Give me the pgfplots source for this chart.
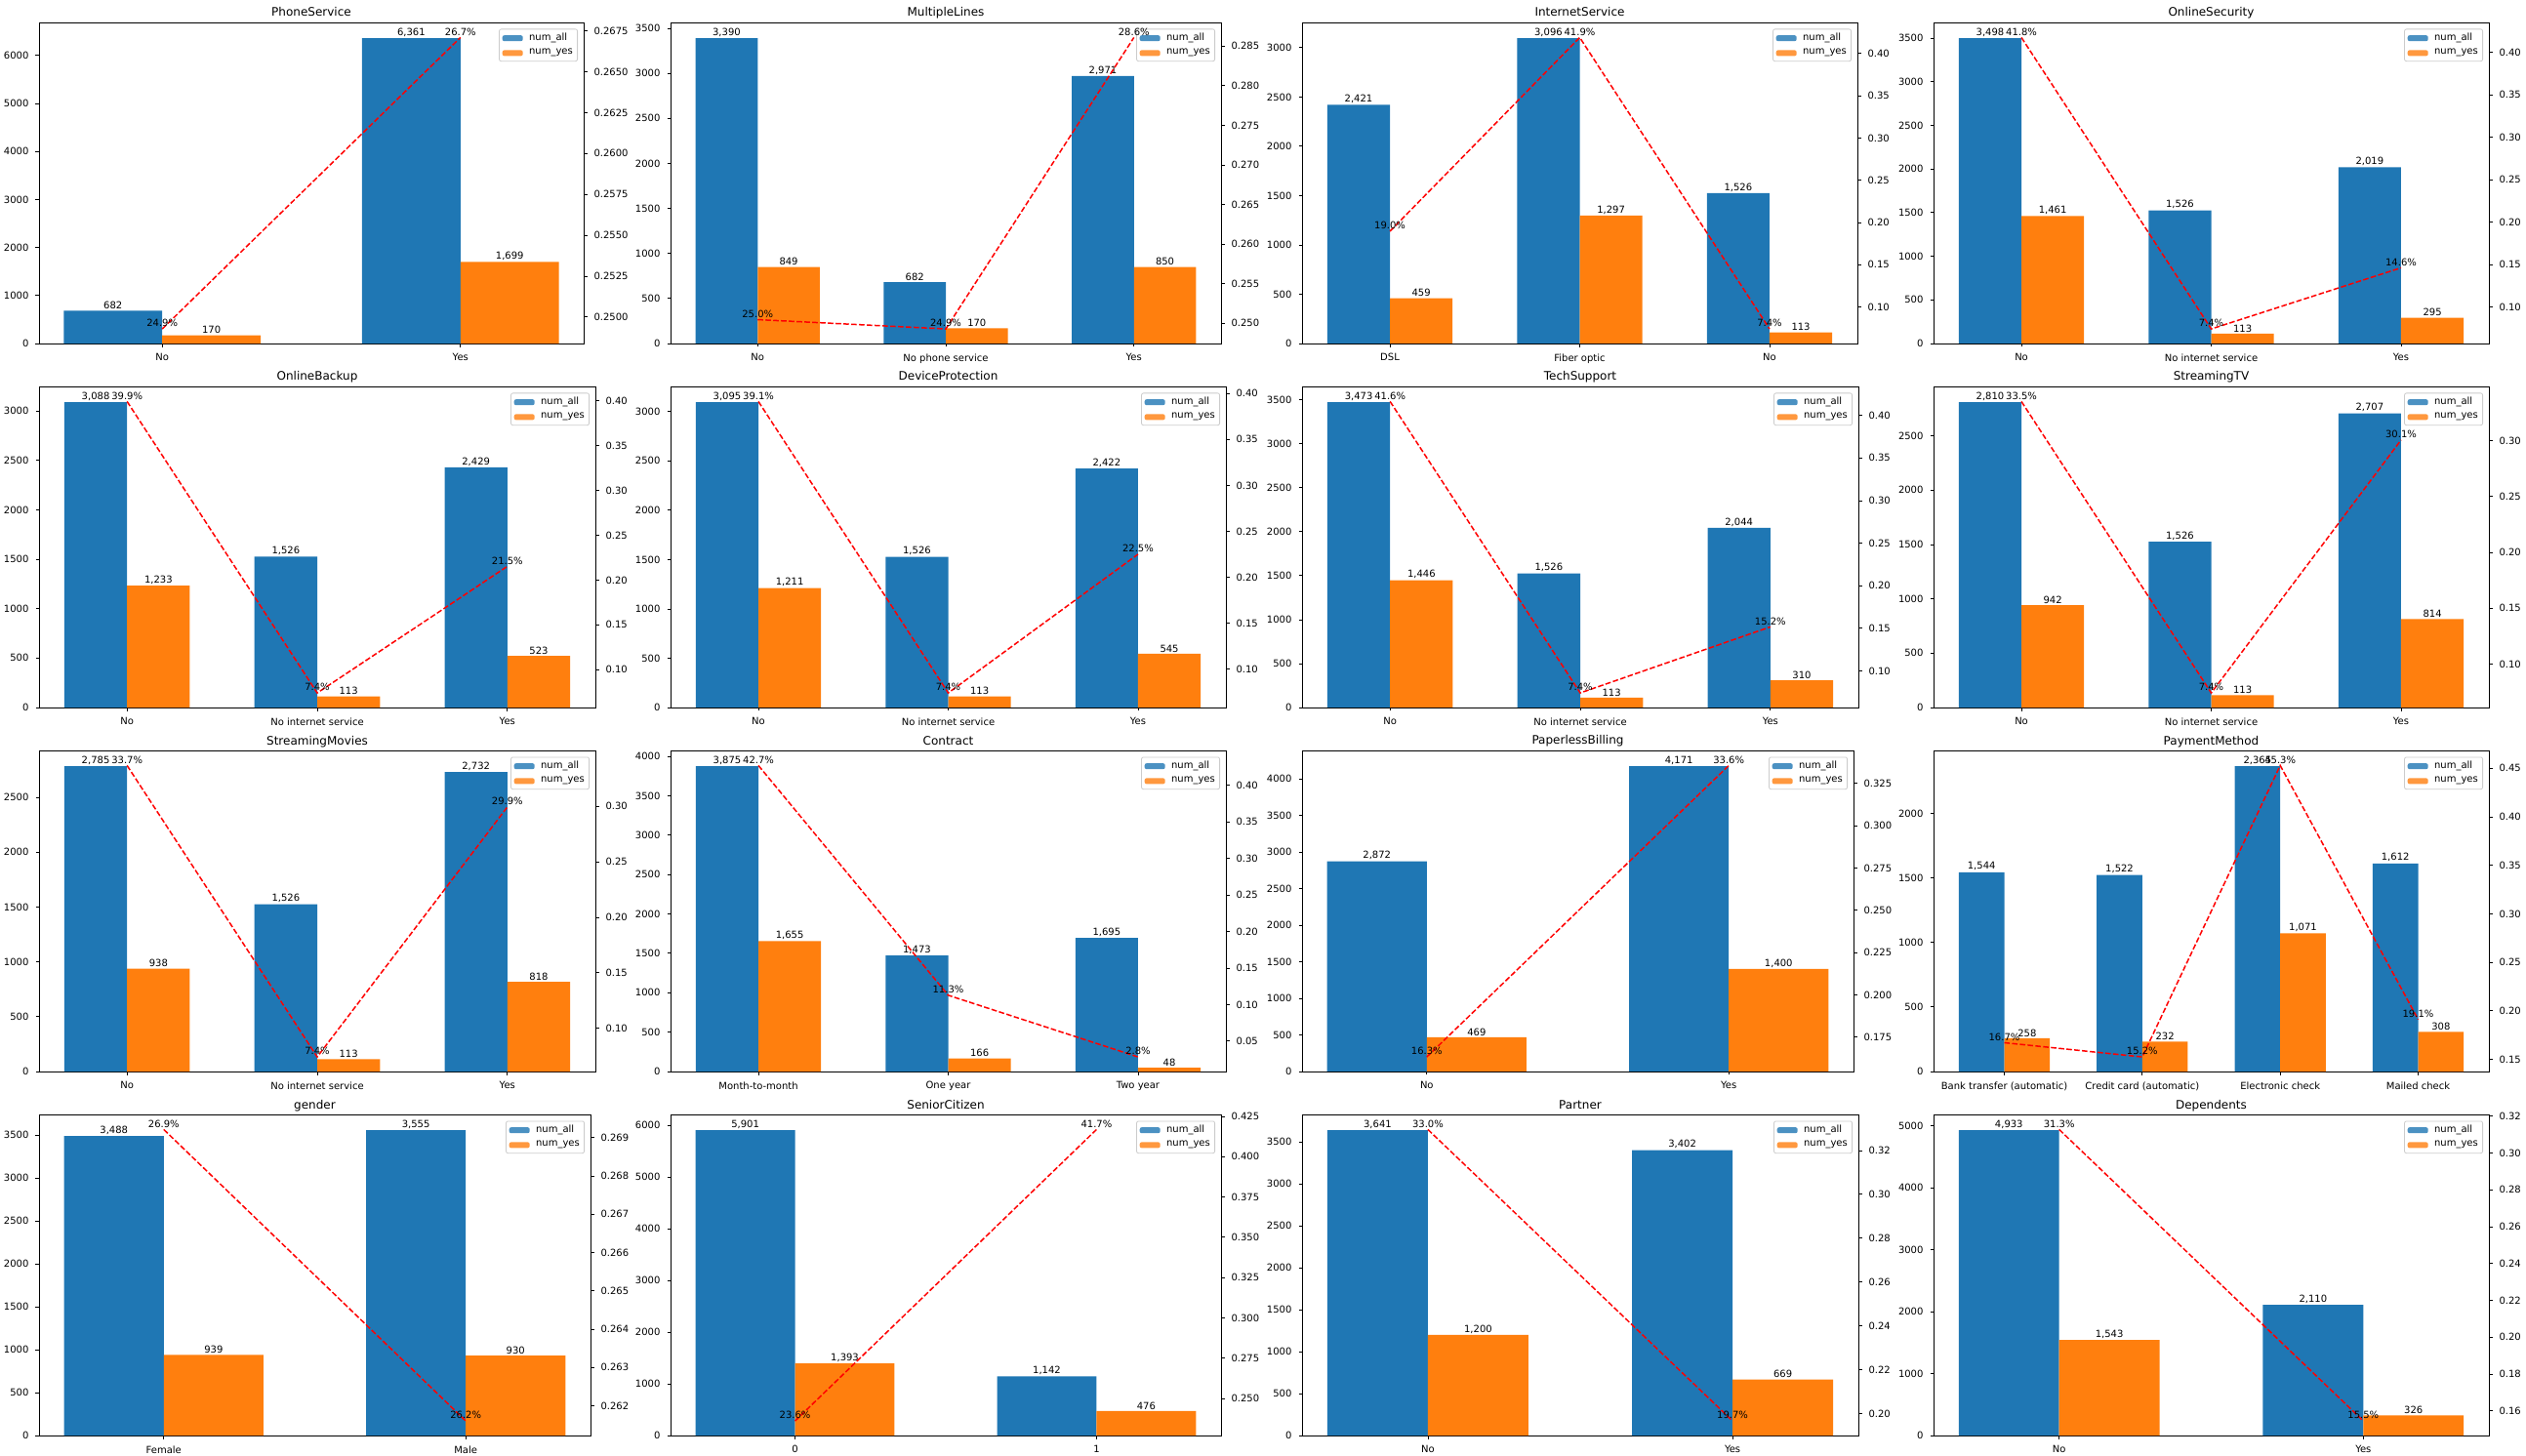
\documentclass[border=0pt]{standalone}
\usepackage{fontspec}
\setmainfont{DejaVu Sans}
\usepackage{pgfplots}
\pgfplotsset{compat=1.18}
\definecolor{c1}{HTML}{1F77B4}
\definecolor{c2}{HTML}{FF7F0E}
\definecolor{lg}{HTML}{CCCCCC}
\newcommand{\fs}{\fontsize{5}{6}\selectfont}
\pgfplotsset{
 common/.style={scale only axis, height=164.25pt, anchor=north west,
   axis line style={line width=0.4pt, black},
   tick style={black, line width=0.4pt},
   tick align=outside, major tick length=1.75pt,
   tick label style={font=\fs},
   scaled ticks=false,
   /pgf/number format/assume math mode=true,
   /pgf/number format/1000 sep={},
   clip=false},
 leftax/.style={common, xtick pos=bottom, ytick pos=left, ymin=0,
   every axis title/.style={font=\fontsize{6}{7}\selectfont, at={(0.5,1)}, anchor=base, yshift=3.25pt, inner sep=0pt},
   legend cell align=left,
   legend style={at={(1,1)}, anchor=north east, xshift=-3pt, yshift=-3pt,
     font=\fs, draw=lg, rounded corners=1pt, fill=white, fill opacity=0.8,
     text opacity=1, inner xsep=1.6pt, inner ysep=1.2pt, row sep=1.2pt,
     nodes={inner sep=0.8pt},
     /tikz/every odd column/.append style={column sep=2.4pt}}},
 rightax/.style={common, axis x line=none, axis y line*=right, ytick pos=right},
 two/.style={xmin=-0.413, xmax=1.413, xtick={0,1}},
 three/.style={xmin=-0.463, xmax=2.463, xtick={0,1,2}},
 four/.style={xmin=-0.513, xmax=3.513, xtick={0,1,2,3}},
 prec/.style={yticklabel={\pgfmathprintnumber[fixed,fixed zerofill,precision=#1]{\tick}}},
 allbar/.style={ybar, bar width=0.33, bar shift=0, fill=c1, draw=none,
   x filter/.expression={x-0.165},
   legend image code/.code={\fill[c1] (0pt,-1.5pt) rectangle (10.5pt,1.5pt);},
   nodes near coords, nodes near coords style={font=\fs, black, inner sep=0.6pt, anchor=south, /pgf/number format/1000 sep={,}}},
 yesbar/.style={ybar, bar width=0.33, bar shift=0, fill=c2, draw=none,
   x filter/.expression={x+0.165},
   legend image code/.code={\fill[c2] (0pt,-1.5pt) rectangle (10.5pt,1.5pt);},
   nodes near coords, nodes near coords style={font=\fs, black, inner sep=0.6pt, anchor=south, /pgf/number format/1000 sep={,}}},
 rateline/.style={red, line width=0.75pt, dash pattern=on 2.8pt off 1.2pt, mark=none,
   point meta=explicit symbolic, nodes near coords,
   nodes near coords style={font=\fs, black, inner sep=0.6pt, anchor=south}},
}
\newcommand{\panel}[6]{%
 \begin{axis}[leftax,#1,#2]
 \addplot[allbar] coordinates {#3};
 \addplot[yesbar] coordinates {#4};
 \legend{num\_all,num\_yes}
 \end{axis}
 \begin{axis}[rightax,#1,#5]
 \addplot[rateline] coordinates {#6};
 \end{axis}}
\begin{document}
\begin{tikzpicture}
\path[use as bounding box] (0,0) rectangle (1294pt,-746pt);
% Row 1
\panel{at={(20pt,-11.75pt)}, width=279pt, two}
 {title={PhoneService}, xticklabels={No,Yes}, ymax=6679, ytick={0,1000,2000,3000,4000,5000,6000}}
 {(0,682) (1,6361)}
 {(0,170) (1,1699)}
 {ymin=0.248376, ymax=0.267987, ytick={0.25,0.2525,0.255,0.2575,0.26,0.2625,0.265,0.2675}, prec=4}
 {(0,0.249267) [24.9\%] (1,0.267096) [26.7\%]}
\panel{at={(343.5pt,-11.75pt)}, width=282pt, three}
 {title={MultipleLines}, xticklabels={No,No phone service,Yes}, ymax=3559.5, ytick={0,500,1000,1500,2000,2500,3000,3500}}
 {(0,3390) (1,682) (2,2971)}
 {(0,849) (1,170) (2,850)}
 {ymin=0.247425, ymax=0.287941, ytick={0.25,0.255,0.26,0.265,0.27,0.275,0.28,0.285}, prec=3}
 {(0,0.250442) [25.0\%] (1,0.249267) [24.9\%] (2,0.286099) [28.6\%]}
\panel{at={(667pt,-11.75pt)}, width=284.5pt, three}
 {title={InternetService}, xticklabels={DSL,Fiber optic,No}, ymax=3250.8, ytick={0,500,1000,1500,2000,2500,3000}}
 {(0,2421) (1,3096) (2,1526)}
 {(0,459) (1,1297) (2,113)}
 {ymin=0.056806, ymax=0.436172, ytick={0.1,0.15,0.2,0.25,0.3,0.35,0.4}, prec=2}
 {(0,0.189591) [19.0\%] (1,0.418928) [41.9\%] (2,0.074050) [7.4\%]}
\panel{at={(990.5pt,-11.75pt)}, width=284.5pt, three}
 {title={OnlineSecurity}, xticklabels={No,No internet service,Yes}, ymax=3672.9, ytick={0,500,1000,1500,2000,2500,3000,3500}}
 {(0,3498) (1,1526) (2,2019)}
 {(0,1461) (1,113) (2,295)}
 {ymin=0.056869, ymax=0.434848, ytick={0.1,0.15,0.2,0.25,0.3,0.35,0.4}, prec=2}
 {(0,0.417667) [41.8\%] (1,0.074050) [7.4\%] (2,0.146112) [14.6\%]}
% Row 2
\panel{at={(20pt,-198.25pt)}, width=285pt, three}
 {title={OnlineBackup}, xticklabels={No,No internet service,Yes}, ymax=3242.4, ytick={0,500,1000,1500,2000,2500,3000}}
 {(0,3088) (1,1526) (2,2429)}
 {(0,1233) (1,113) (2,523)}
 {ymin=0.057788, ymax=0.415550, ytick={0.1,0.15,0.2,0.25,0.3,0.35,0.4}, prec=2}
 {(0,0.399288) [39.9\%] (1,0.074050) [7.4\%] (2,0.215315) [21.5\%]}
\panel{at={(343.5pt,-198.25pt)}, width=284.5pt, three}
 {title={DeviceProtection}, xticklabels={No,No internet service,Yes}, ymax=3249.75, ytick={0,500,1000,1500,2000,2500,3000}}
 {(0,3095) (1,1526) (2,2422)}
 {(0,1211) (1,113) (2,545)}
 {ymin=0.058189, ymax=0.407137, ytick={0.1,0.15,0.2,0.25,0.3,0.35,0.4}, prec=2}
 {(0,0.391276) [39.1\%] (1,0.074050) [7.4\%] (2,0.225021) [22.5\%]}
\panel{at={(667pt,-198.25pt)}, width=285pt, three}
 {title={TechSupport}, xticklabels={No,No internet service,Yes}, ymax=3646.65, ytick={0,500,1000,1500,2000,2500,3000,3500}}
 {(0,3473) (1,1526) (2,2044)}
 {(0,1446) (1,113) (2,310)}
 {ymin=0.056935, ymax=0.433470, ytick={0.1,0.15,0.2,0.25,0.3,0.35,0.4}, prec=2}
 {(0,0.416355) [41.6\%] (1,0.074050) [7.4\%] (2,0.151663) [15.2\%]}
\panel{at={(990.5pt,-198.25pt)}, width=284.5pt, three}
 {title={StreamingTV}, xticklabels={No,No internet service,Yes}, ymax=2950.5, ytick={0,500,1000,1500,2000,2500}}
 {(0,2810) (1,1526) (2,2707)}
 {(0,942) (1,113) (2,814)}
 {ymin=0.060991, ymax=0.348290, ytick={0.1,0.15,0.2,0.25,0.3}, prec=2}
 {(0,0.335231) [33.5\%] (1,0.074050) [7.4\%] (2,0.300702) [30.1\%]}
% Row 3
\panel{at={(20pt,-384.75pt)}, width=285pt, three}
 {title={StreamingMovies}, xticklabels={No,No internet service,Yes}, ymax=2924.25, ytick={0,500,1000,1500,2000,2500}}
 {(0,2785) (1,1526) (2,2732)}
 {(0,938) (1,113) (2,818)}
 {ymin=0.060912, ymax=0.349942, ytick={0.1,0.15,0.2,0.25,0.3}, prec=2}
 {(0,0.336804) [33.7\%] (1,0.074050) [7.4\%] (2,0.299414) [29.9\%]}
\panel{at={(343.5pt,-384.75pt)}, width=284.5pt, three}
 {title={Contract}, xticklabels={Month-to-month,One year,Two year}, ymax=4068.75, ytick={0,500,1000,1500,2000,2500,3000,3500,4000}}
 {(0,3875) (1,1473) (2,1695)}
 {(0,1655) (1,166) (2,48)}
 {ymin=0.008380, ymax=0.447036, ytick={0.05,0.1,0.15,0.2,0.25,0.3,0.35,0.4}, prec=2}
 {(0,0.427097) [42.7\%] (1,0.112695) [11.3\%] (2,0.028319) [2.8\%]}
\panel{at={(667pt,-384.75pt)}, width=282.5pt, two}
 {title={PaperlessBilling}, xticklabels={No,Yes}, ymax=4379.55, ytick={0,500,1000,1500,2000,2500,3000,3500,4000}}
 {(0,2872) (1,4171)}
 {(0,469) (1,1400)}
 {ymin=0.154683, ymax=0.344269, ytick={0.175,0.2,0.225,0.25,0.275,0.3,0.325}, prec=3}
 {(0,0.163301) [16.3\%] (1,0.335651) [33.6\%]}
\panel{at={(990.5pt,-384.75pt)}, width=284.5pt, four}
 {title={PaymentMethod}, xticklabels={Bank transfer (automatic),Credit card (automatic),Electronic check,Mailed check}, ymax=2483.25, ytick={0,500,1000,1500,2000}}
 {(0,1544) (1,1522) (2,2365) (3,1612)}
 {(0,258) (1,232) (2,1071) (3,308)}
 {ymin=0.137410, ymax=0.467875, ytick={0.15,0.2,0.25,0.3,0.35,0.4,0.45}, prec=2}
 {(0,0.167098) [16.7\%] (1,0.152431) [15.2\%] (2,0.452854) [45.3\%] (3,0.191067) [19.1\%]}
% Row 4
\panel{at={(20pt,-571.25pt)}, width=282.5pt, two}
 {title={gender}, xticklabels={Female,Male}, ymax=3732.75, ytick={0,500,1000,1500,2000,2500,3000,3500}}
 {(0,3488) (1,3555)}
 {(0,939) (1,930)}
 {ymin=0.261223, ymax=0.269589, ytick={0.262,0.263,0.264,0.265,0.266,0.267,0.268,0.269}, prec=3}
 {(0,0.269209) [26.9\%] (1,0.261603) [26.2\%]}
\panel{at={(343.5pt,-571.25pt)}, width=282pt, two}
 {title={SeniorCitizen}, xticklabels={0,1}, ymax=6196.05, ytick={0,1000,2000,3000,4000,5000,6000}}
 {(0,5901) (1,1142)}
 {(0,1393) (1,476)}
 {ymin=0.227024, ymax=0.425851, ytick={0.25,0.275,0.3,0.325,0.35,0.375,0.4,0.425}, prec=3}
 {(0,0.236062) [23.6\%] (1,0.416813) [41.7\%]}
\panel{at={(667pt,-571.25pt)}, width=285pt, two}
 {title={Partner}, xticklabels={No,Yes}, ymax=3823.05, ytick={0,500,1000,1500,2000,2500,3000,3500}}
 {(0,3641) (1,3402)}
 {(0,1200) (1,669)}
 {ymin=0.190002, ymax=0.336227, ytick={0.2,0.22,0.24,0.26,0.28,0.3,0.32}, prec=2}
 {(0,0.329580) [33.0\%] (1,0.196649) [19.7\%]}
\panel{at={(990.5pt,-571.25pt)}, width=284.5pt, two}
 {title={Dependents}, xticklabels={No,Yes}, ymax=5179.65, ytick={0,1000,2000,3000,4000,5000}}
 {(0,4933) (1,2110)}
 {(0,1543) (1,326)}
 {ymin=0.146588, ymax=0.320705, ytick={0.16,0.18,0.2,0.22,0.24,0.26,0.28,0.3,0.32}, prec=2}
 {(0,0.312791) [31.3\%] (1,0.154502) [15.5\%]}
\end{tikzpicture}
\end{document}
